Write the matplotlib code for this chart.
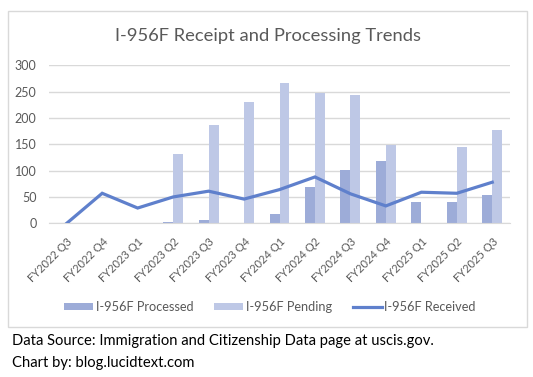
import matplotlib
matplotlib.use("Agg")
import matplotlib.pyplot as plt
import numpy as np
from matplotlib.patches import Rectangle

plt.rcParams['font.family'] = ['Lato', 'DejaVu Sans']

categories = ["FY2022 Q3", "FY2022 Q4", "FY2023 Q1", "FY2023 Q2", "FY2023 Q3",
              "FY2023 Q4", "FY2024 Q1", "FY2024 Q2", "FY2024 Q3", "FY2024 Q4",
              "FY2025 Q1", "FY2025 Q2", "FY2025 Q3"]
processed = [0, 0, 0, 2, 6, 0, 18, 69, 101, 118, 40, 40, 54]
pending = [0, 0, 0, 132, 187, 230, 266, 247, 243, 149, 0, 145, 177]
received = [0, 57, 29, 50, 61, 46, 64, 88, 56, 33, 59, 57, 78]

c_proc = "#9DACD8"
c_pend = "#BEC8E6"
c_recv = "#5F80CC"
gray = "#595959"

fig = plt.figure(figsize=(5.33, 3.77), dpi=100)
W, H = 533, 377
fig.patches.append(Rectangle((8 / W, 1 - 327 / H), (527 - 8) / W, (327 - 11) / H,
                             transform=fig.transFigure, fill=False,
                             edgecolor="#D9D9D9", linewidth=1.0))

ax = fig.add_axes([49 / W, 1 - 223.3 / H, (510 - 49) / W, (223.3 - 65.3) / H])
x = np.arange(len(categories))
bw = 0.28
ax.bar(x - bw / 2, processed, width=bw, color=c_proc, label="I-956F Processed", zorder=2)
ax.bar(x + bw / 2, pending, width=bw, color=c_pend, label="I-956F Pending", zorder=2)
ax.plot(x, received, color=c_recv, linewidth=2.3, label="I-956F Received", zorder=3,
        solid_joinstyle="miter")

ax.set_xlim(-0.5, len(categories) - 0.5)
ax.set_ylim(0, 300)
ax.set_yticks([0, 50, 100, 150, 200, 250, 300])
ax.yaxis.grid(True, color="#D9D9D9", linewidth=1.0, zorder=0)
ax.set_axisbelow(True)
for s in ["top", "right", "left"]:
    ax.spines[s].set_visible(False)
ax.spines["bottom"].set_color("#D9D9D9")
ax.tick_params(axis="both", length=0, colors=gray, labelsize=9)
ax.tick_params(axis="y", pad=9)
ax.set_xticks(x)
ax.set_xticklabels(categories, rotation=45, ha="right", rotation_mode="anchor",
                   fontsize=8, color=gray)
ax.tick_params(axis="x", pad=9)

fig.text(268 / W, 1 - 36 / H, "I-956F Receipt and Processing Trends", ha="center",
         va="center", fontsize=13.2, color=gray)

handles, labels = ax.get_legend_handles_labels()
order = [1, 2, 0]
leg = fig.legend([handles[i] for i in order], [labels[i] for i in order],
                 loc="center", bbox_to_anchor=(270 / W, 1 - 307 / H), ncol=3,
                 frameon=False, fontsize=9.2, handlelength=2.3, handleheight=0.5,
                 columnspacing=1.6, handletextpad=0.2)
for t in leg.get_texts():
    t.set_color(gray)

fig.text(12 / W, 1 - 341 / H, "Data Source: Immigration and Citizenship Data page at uscis.gov.",
         ha="left", va="center", fontsize=10.6, color="black")
fig.text(12 / W, 1 - 363 / H, "Chart by: blog.lucidtext.com",
         ha="left", va="center", fontsize=10.6, color="black")

fig.savefig("out.png", dpi=100)
